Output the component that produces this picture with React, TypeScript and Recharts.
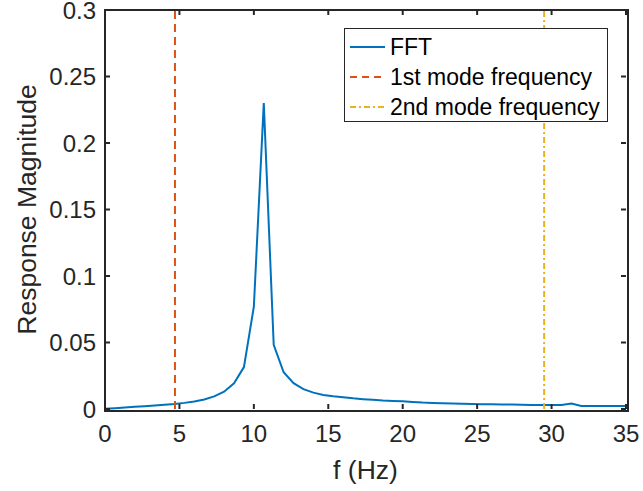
import React from 'react';
import { LineChart, Line, XAxis, YAxis, ReferenceLine } from 'recharts';

// FFT spectrum: frequencies spaced 2/3 Hz apart (k * 0.6667), last sample at the axis end
const freqs: number[] = [
  0, 0.667, 1.333, 2, 2.667, 3.333, 4, 4.667, 5.333, 6, 6.667, 7.333, 8, 8.667, 9.333, 10,
  10.667, 11.333, 12, 12.667, 13.333, 14, 14.667, 15.333, 16, 16.667, 17.333, 18, 18.667,
  19.333, 20, 20.667, 21.333, 22, 22.667, 23.333, 24, 24.667, 25.333, 26, 26.667, 27.333,
  28, 28.667, 29.333, 30, 30.667, 31.333, 32, 32.667, 33.333, 34, 34.667, 35,
];
const magnitudes: number[] = [
  0.0002, 0.0006, 0.0011, 0.0016, 0.0021, 0.0026, 0.0032, 0.0038, 0.0046, 0.0056, 0.0071,
  0.0095, 0.0130, 0.0193, 0.0315, 0.0770, 0.2300, 0.0483, 0.0276, 0.0194, 0.0149, 0.0123,
  0.0106, 0.0096, 0.0088, 0.0080, 0.0074, 0.0069, 0.0064, 0.0061, 0.0058, 0.0053, 0.0048,
  0.0045, 0.0043, 0.0041, 0.0039, 0.0038, 0.0036, 0.0035, 0.0034, 0.0033, 0.0032, 0.0031,
  0.0030, 0.0030, 0.0031, 0.0042, 0.0022, 0.0022, 0.0022, 0.0022, 0.0022, 0.0022,
];
const modeFrequencies: number[] = [4.7, 29.5];
const modeNames: string[] = ['1st mode frequency', '2nd mode frequency'];
const xTicks: number[] = [0, 5, 10, 15, 20, 25, 30, 35];
const yTicks: number[] = [0, 0.05, 0.1, 0.15, 0.2, 0.25, 0.3];

const data = freqs.map((f, i) => ({ f, mag: magnitudes[i] }));

const AXIS = '#262626';
const FONT = '"Liberation Sans", Arial, Helvetica, sans-serif';
const BLUE = '#0072BD';
const ORANGE = '#D95319';
const YELLOW = '#EDB120';
const TICK_LEN = 5;
const PLOT_LEFT = 105;
const PLOT_TOP = 10;
const PLOT_RIGHT = 626;
const PLOT_BOTTOM = 409;

const legendItems = [
  { name: 'FFT', color: BLUE, dash: undefined as string | undefined },
  { name: modeNames[0], color: ORANGE, dash: '7 5' },
  { name: modeNames[1], color: YELLOW, dash: '6 3 2 3' },
];

const LegendBox = () => (
  <div
    style={{
      position: 'absolute',
      left: 344,
      top: 28,
      width: 262,
      height: 92,
      border: `1.5px solid ${AXIS}`,
      background: '#fff',
      fontFamily: FONT,
      fontSize: 23,
      color: '#000',
    }}
  >
    {legendItems.map((it, i) => (
      <div
        key={it.name}
        style={{
          position: 'absolute',
          left: 0,
          top: 3 + i * 30,
          height: 30,
          display: 'flex',
          alignItems: 'center',
          whiteSpace: 'nowrap',
        }}
      >
        <svg width={45} height={30} style={{ display: 'block' }}>
          <line x1={5} x2={40} y1={15} y2={15} stroke={it.color} strokeWidth={2} strokeDasharray={it.dash} />
        </svg>
        <span>{it.name}</span>
      </div>
    ))}
  </div>
);

// Box outline around the plot area (MATLAB "box on")
const Frame = () => (
  <div
    style={{
      position: 'absolute',
      left: PLOT_LEFT - 1,
      top: PLOT_TOP - 1,
      width: PLOT_RIGHT - PLOT_LEFT,
      height: PLOT_BOTTOM - PLOT_TOP,
      border: `2px solid ${AXIS}`,
      background: 'transparent',
      pointerEvents: 'none',
    }}
  />
);

const YLabel = (props: any) => {
  const vb = props.viewBox || {};
  const cx = 27;
  const cy = (vb.y || 0) + (vb.height || 0) / 2;
  return (
    <text
      x={cx}
      y={cy}
      transform={`rotate(-90 ${cx} ${cy})`}
      textAnchor="middle"
      dominantBaseline="central"
      fill={AXIS}
      fontSize={26.5}
      fontFamily={FONT}
    >
      Response Magnitude
    </text>
  );
};

const XLabel = (props: any) => {
  const vb = props.viewBox || {};
  const cx = (vb.x || 0) + (vb.width || 0) / 2;
  return (
    <text x={cx} y={470} textAnchor="middle" dominantBaseline="central" fill={AXIS} fontSize={26.5} fontFamily={FONT}>
      f (Hz)
    </text>
  );
};

const BottomTick = (props: any) => {
  const { x, y, payload } = props;
  return (
    <g>
      <line x1={x} x2={x} y1={y} y2={y - TICK_LEN} stroke={AXIS} strokeWidth={2} />
      <line x1={x} x2={x} y1={PLOT_TOP} y2={PLOT_TOP + TICK_LEN} stroke={AXIS} strokeWidth={2} />
      <text x={x} y={y + 16} dy="0.71em" textAnchor="middle" fill={AXIS} fontSize={24} fontFamily={FONT}>
        {String(payload.value)}
      </text>
    </g>
  );
};

const LeftTick = (props: any) => {
  const { x, y, payload } = props;
  return (
    <g>
      <line x1={x} x2={x + TICK_LEN} y1={y} y2={y} stroke={AXIS} strokeWidth={2} />
      <line x1={PLOT_RIGHT} x2={PLOT_RIGHT - TICK_LEN} y1={y} y2={y} stroke={AXIS} strokeWidth={2} />
      <text x={x - 9} y={y} dy="0.355em" textAnchor="end" fill={AXIS} fontSize={24} fontFamily={FONT}>
        {String(payload.value)}
      </text>
    </g>
  );
};

export default function App() {
  return (
    <div style={{ position: 'absolute', left: 0, top: 0, width: 643, height: 491, background: '#fff' }}>
      <LineChart width={643} height={491} data={data} margin={{ top: PLOT_TOP, right: 643 - PLOT_RIGHT, left: 0, bottom: 0 }}>
        <XAxis
          dataKey="f"
          type="number"
          domain={[0, 35]}
          ticks={xTicks}
          height={491 - PLOT_BOTTOM}
          axisLine={false}
          tickLine={false}
          tickSize={0}
          tickMargin={0}
          tick={<BottomTick />}
          label={<XLabel />}
        />
        <YAxis
          type="number"
          domain={[0, 0.3]}
          ticks={yTicks}
          width={PLOT_LEFT}
          axisLine={false}
          tickLine={false}
          tickSize={0}
          tickMargin={0}
          tick={<LeftTick />}
          label={<YLabel />}
        />
        <Line
          dataKey="mag"
          stroke={BLUE}
          strokeWidth={2}
          dot={false}
          activeDot={false}
          isAnimationActive={false}
        />
        <ReferenceLine x={modeFrequencies[0]} stroke={ORANGE} strokeWidth={2} strokeDasharray="8 5" />
        <ReferenceLine x={modeFrequencies[1]} stroke={YELLOW} strokeWidth={2} strokeDasharray="6 3 2 3" />
      </LineChart>
      <Frame />
      <LegendBox />
    </div>
  );
}
